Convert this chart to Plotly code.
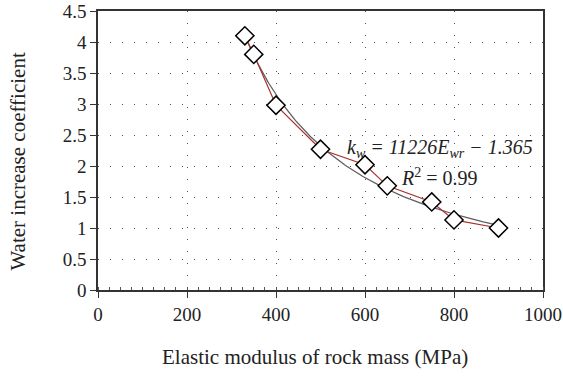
import numpy as np
import plotly.graph_objects as go

# Measured water increase coefficient vs. elastic modulus of rock mass
modulus_mpa = [330, 350, 400, 500, 600, 650, 750, 800, 900]
water_coeff = [4.10, 3.80, 2.98, 2.27, 2.02, 1.68, 1.42, 1.13, 1.00]

# Power-law fit k_w = A * E^B
fit_a = 11226
fit_b = -1.365
fit_r2 = 0.99

x_ticks = [0, 200, 400, 600, 800, 1000]
y_ticks = [0, 0.5, 1, 1.5, 2, 2.5, 3, 3.5, 4, 4.5]
y_tick_text = ["0", "0.5", "1", "1.5", "2", "2.5", "3", "3.5", "4", "4.5"]

FONT = "Liberation Serif, DejaVu Serif, serif"
TXT = "#222"

e_fit = np.linspace(min(modulus_mpa), max(modulus_mpa), 200)
k_fit = fit_a * e_fit ** fit_b

fig = go.Figure()

fig.add_trace(go.Scatter(
    x=e_fit, y=k_fit, mode="lines",
    line=dict(color="#5f5f5f", width=1.3),
    hoverinfo="skip", showlegend=False,
))

fig.add_trace(go.Scatter(
    x=modulus_mpa, y=water_coeff, mode="lines+markers",
    line=dict(color="#a8302c", width=1.2),
    marker=dict(symbol="diamond", size=14, color="white",
                line=dict(color="black", width=1.5)),
    showlegend=False,
))

# Fit equation and goodness of fit
fig.add_annotation(
    x=768, y=2.28, xref="x", yref="y", showarrow=False,
    text="<i>k<sub>w</sub> = 11226E<sub>wr</sub> − 1.365</i>",
    font=dict(family=FONT, size=20, color=TXT),
)
fig.add_annotation(
    x=768, y=1.82, xref="x", yref="y", showarrow=False,
    text=f"<i>R</i><sup>2</sup> = {fit_r2:.2f}",
    font=dict(family=FONT, size=20, color=TXT),
)

# Axis titles
fig.add_annotation(
    x=0.488, y=-0.24, xref="paper", yref="paper", showarrow=False,
    xanchor="center", yanchor="middle",
    text="Elastic modulus of rock mass (MPa)",
    font=dict(family=FONT, size=21, color=TXT),
)
fig.add_annotation(
    x=-0.18, y=0.46, xref="paper", yref="paper", showarrow=False,
    xanchor="center", yanchor="middle", textangle=-90,
    text="Water increase coefficient",
    font=dict(family=FONT, size=21, color=TXT),
)

fig.update_xaxes(
    range=[0, 1000], tickvals=x_ticks, ticktext=[str(v) for v in x_ticks],
    automargin=False, ticklabeloverflow="allow",
    showline=True, linecolor="#333", linewidth=1.5, mirror=True,
    ticks="outside", ticklen=6, tickwidth=1.2, tickcolor="#333",
    minor=dict(dtick=25, ticks="inside", ticklen=3, tickcolor="#555", showgrid=False),
    showgrid=True, gridcolor="#555", gridwidth=1, griddash="1px,11px",
    zeroline=False,
    tickfont=dict(family=FONT, size=19, color=TXT),
)
fig.update_yaxes(
    range=[0, 4.5], tickvals=y_ticks, ticktext=y_tick_text,
    automargin=False, ticklabeloverflow="allow",
    showline=True, linecolor="#333", linewidth=1.5, mirror=True,
    ticks="outside", ticklen=6, tickwidth=1.2, tickcolor="#333",
    showgrid=True, gridcolor="#555", gridwidth=1, griddash="1px,11px",
    zeroline=False,
    tickfont=dict(family=FONT, size=19, color=TXT),
)

fig.update_layout(
    width=563, height=378,
    margin=dict(l=98, r=20, t=11, b=88),
    plot_bgcolor="white", paper_bgcolor="white",
)

fig.write_html("out.html")
